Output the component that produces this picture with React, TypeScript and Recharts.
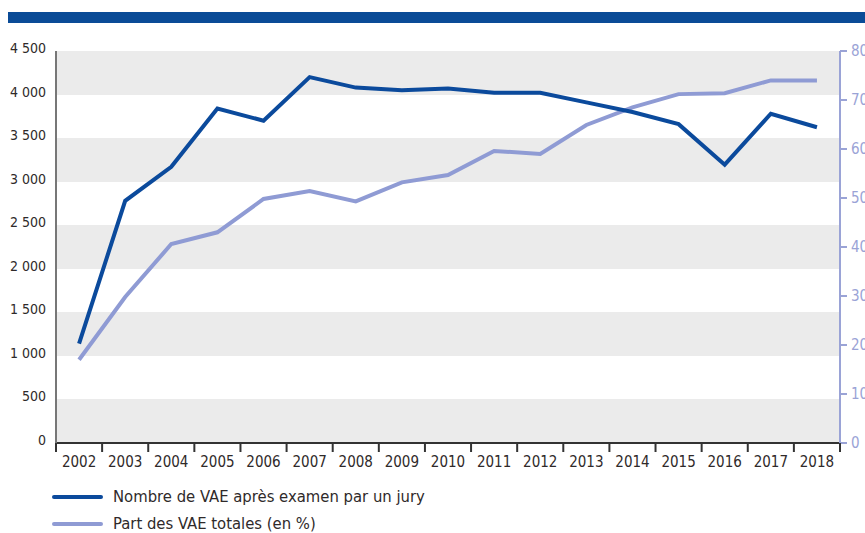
import React from 'react'
import { LineChart, Line, XAxis, YAxis, CartesianGrid } from 'recharts'

const YEARS = [2002, 2003, 2004, 2005, 2006, 2007, 2008, 2009, 2010, 2011, 2012, 2013, 2014, 2015, 2016, 2017, 2018]
// nombre de VAE après examen par un jury (axe gauche)
const VAE_JURY = [1140, 2780, 3170, 3840, 3700, 4200, 4080, 4050, 4070, 4020, 4020, 3910, 3800, 3660, 3195, 3780, 3625]
// part des VAE totales, en % (axe droit)
const PART_VAE = [17.0, 29.8, 40.6, 43.0, 49.8, 51.4, 49.3, 53.2, 54.7, 59.6, 59.0, 64.9, 68.5, 71.2, 71.4, 74.0, 74.0]

const LEFT_TICKS = [0, 500, 1000, 1500, 2000, 2500, 3000, 3500, 4000, 4500]
const RIGHT_TICKS = [0, 10, 20, 30, 40, 50, 60, 70, 80]

const SERIES_NAMES = ['Nombre de VAE après examen par un jury', 'Part des VAE totales (en %)']

const DARK = '#0b4a9c'
const LIGHT = '#8f9bd4'
const TEXT = '#2f2a2a'
const FONT = "'Liberation Sans Narrow', 'DejaVu Sans Condensed', 'Arial Narrow', sans-serif"

const CHART_W = 880
const CHART_H = 533
const PLOT_W = 784

const data = YEARS.map((year, i) => ({
  year,
  jury: VAE_JURY[i],
  part: PART_VAE[i],
}))

const formatThousands = (v: number): string => {
  if (v < 1000) return String(v)
  return `${Math.floor(v / 1000)} ${String(v % 1000).padStart(3, '0')}`
}

// year label centred in its band, tick marks on the band boundaries
const YearTick = (props: any) => {
  const { x, y, payload, index } = props
  const bw = PLOT_W / YEARS.length
  return (
    <g>
      {index === 0 && (
        <line x1={x - bw / 2} y1={y} x2={x - bw / 2} y2={y + 9} stroke="#333" strokeWidth={2} />
      )}
      <line x1={x + bw / 2} y1={y} x2={x + bw / 2} y2={y + 9} stroke="#333" strokeWidth={2} />
      <text x={x} y={y + 24} textAnchor="middle" fill={TEXT} fontSize={15} fontFamily={FONT}>
        {payload.value}
      </text>
    </g>
  )
}

const LegendRow = ({ color, label, top }: { color: string; label: string; top: number }) => (
  <div style={{ position: 'absolute', left: 52, top, display: 'flex', alignItems: 'center' }}>
    <div style={{ width: 51, height: 4, borderRadius: 2, background: color }} />
    <span style={{ marginLeft: 10, fontFamily: FONT, fontSize: 16.5, color: TEXT, lineHeight: '20px' }}>
      {label}
    </span>
  </div>
)

export default function App() {
  return (
    <div
      style={{
        position: 'fixed',
        left: 0,
        top: 0,
        width: 865,
        height: 533,
        overflow: 'hidden',
        background: '#fff',
      }}
    >
      <div style={{ position: 'absolute', left: 8, top: 12, width: 857, height: 11, background: '#0a4b97' }} />
      <div style={{ position: 'absolute', left: 0, top: 0 }}>
        <LineChart width={CHART_W} height={CHART_H} data={data} margin={{ top: 51, right: 0, bottom: 60, left: 0 }}>
          <CartesianGrid
            yAxisId="left"
            vertical={false}
            stroke="none"
            horizontalFill={['#ebebeb', '#ffffff']}
            fillOpacity={1}
          />
          <XAxis
            dataKey="year"
            type="number"
            domain={[2001.5, 2018.5]}
            ticks={YEARS}
            interval={0}
            tickLine={false}
            tickSize={0}
            tickMargin={0}
            tick={<YearTick />}
            axisLine={{ stroke: '#333', strokeWidth: 2 }}
            height={30}
          />
          <YAxis
            yAxisId="left"
            domain={[0, 4500]}
            ticks={LEFT_TICKS}
            tickFormatter={formatThousands}
            tickLine={false}
            tickSize={0}
            tickMargin={10}
            tick={{ fill: TEXT, fontSize: 14, fontFamily: FONT, dy: -3 }}
            axisLine={{ stroke: '#777', strokeWidth: 2 }}
            width={56}
          />
          <YAxis
            yAxisId="right"
            orientation="right"
            domain={[0, 80]}
            ticks={RIGHT_TICKS}
            tickSize={7}
            tickMargin={4}
            tickLine={{ stroke: '#9aa3d6', strokeWidth: 2 }}
            tick={{ fill: '#9aa3d6', fontSize: 15, fontFamily: FONT }}
            axisLine={{ stroke: '#9aa3d6', strokeWidth: 2 }}
            width={40}
          />
          <Line
            yAxisId="right"
            dataKey="part"
            stroke={LIGHT}
            strokeWidth={4}
            dot={false}
            isAnimationActive={false}
          />
          <Line
            yAxisId="left"
            dataKey="jury"
            stroke={DARK}
            strokeWidth={4}
            dot={false}
            isAnimationActive={false}
          />
        </LineChart>
      </div>
      <LegendRow color={DARK} label={SERIES_NAMES[0]} top={487} />
      <LegendRow color={LIGHT} label={SERIES_NAMES[1]} top={514} />
    </div>
  )
}
